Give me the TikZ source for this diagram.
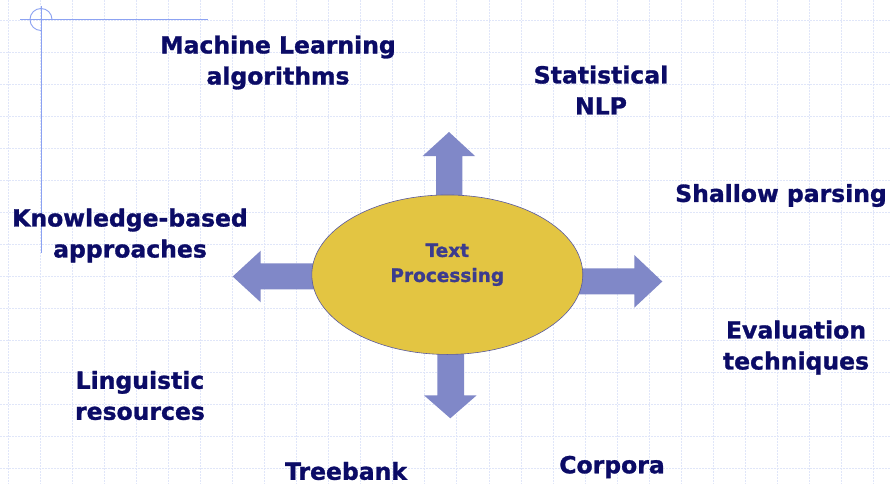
\documentclass[tikz,border=0pt]{standalone}
\usepackage{fontspec}
\setmainfont{DejaVu Sans}[BoldFeatures={FakeBold=1.2}]
\usetikzlibrary{shapes.geometric}

\definecolor{navy}{HTML}{0B0B66}
\definecolor{gridblue}{HTML}{E0E6F9}
\definecolor{rulerblue}{HTML}{8CA2F2}
\definecolor{arrowblue}{HTML}{8088C8}
\definecolor{ovalgold}{HTML}{E3C542}
\definecolor{ovaltext}{HTML}{3C3C8E}

\tikzset{
  topic/.style={align=center,text=navy,font=\fontsize{23.5}{31}\selectfont\bfseries},
  bigarrow/.style={fill=arrowblue,draw=none},
}

\begin{document}
\begin{tikzpicture}[x=1pt,y=-1pt]
  \useasboundingbox (0,0) rectangle (891,484);
  \fill[white] (0,0) rectangle (891,484);

  % background grid
  \foreach \gx in {0,...,27}
    \draw[gridblue,line width=0.5pt,dash pattern=on 2pt off 1pt] (8+32.05*\gx,0) -- (8+32.05*\gx,484);
  \foreach \gy in {0,...,14}
    \draw[gridblue,line width=0.5pt,dash pattern=on 2pt off 1pt] (0,20+32*\gy) -- (891,20+32*\gy);

  % corner mark
  \draw[rulerblue,line width=0.9pt] (20,19.5) -- (208,19.5) ;
  \draw[rulerblue,line width=0.9pt] (41,6) -- (41,253) ;
  \draw[rulerblue,line width=0.9pt] (41,30.5) arc (90:360:11) ;

  % arrows
  \fill[bigarrow] (436,200) -- (436,156) -- (422.7,156) -- (449,132) -- (475,156) -- (462.3,156) -- (462.3,200) -- cycle ;
  \fill[bigarrow] (437.3,350) -- (437.3,395.3) -- (424,395.3) -- (450.3,418.3) -- (476.7,395.3) -- (464,395.3) -- (464,350) -- cycle ;
  \fill[bigarrow] (316,263.3) -- (260.7,263.3) -- (260.7,250.7) -- (232.7,276.5) -- (260.7,302.3) -- (260.7,289.3) -- (316,289.3) -- cycle ;
  \fill[bigarrow] (578,268.3) -- (634.3,268.3) -- (634.3,255) -- (662.3,281.5) -- (634.3,307.7) -- (634.3,294.3) -- (578,294.3) -- cycle ;

  % centre
  \node[ellipse,draw=ovaltext!85,line width=0.6pt,fill=ovalgold,minimum width=271pt,minimum height=159.5pt,
        align=center,text=ovaltext,font=\fontsize{18.5}{25}\selectfont\bfseries] (tp) at (447.3,274.7) {Text\\Processing\\[-1pt]};

  % topics
  \node[topic] (ml)    at (278,62.5)  {Machine Learning\\algorithms};
  \node[topic] (snlp)  at (601,90)    {Statistical\\NLP};
  \node[topic] (shal)  at (781,195.5) {Shallow parsing};
  \node[topic] (kb)    at (130,235.5) {Knowledge-based\\approaches};
  \node[topic] (eval)  at (796,347.5) {Evaluation\\techniques};
  \node[topic] (ling)  at (140,395.5) {Linguistic\\resources};
  \node[topic] (tree)  at (346,471)   {Treebank};
  \node[topic] (corp)  at (612,467)   {Corpora};
\end{tikzpicture}
\end{document}
